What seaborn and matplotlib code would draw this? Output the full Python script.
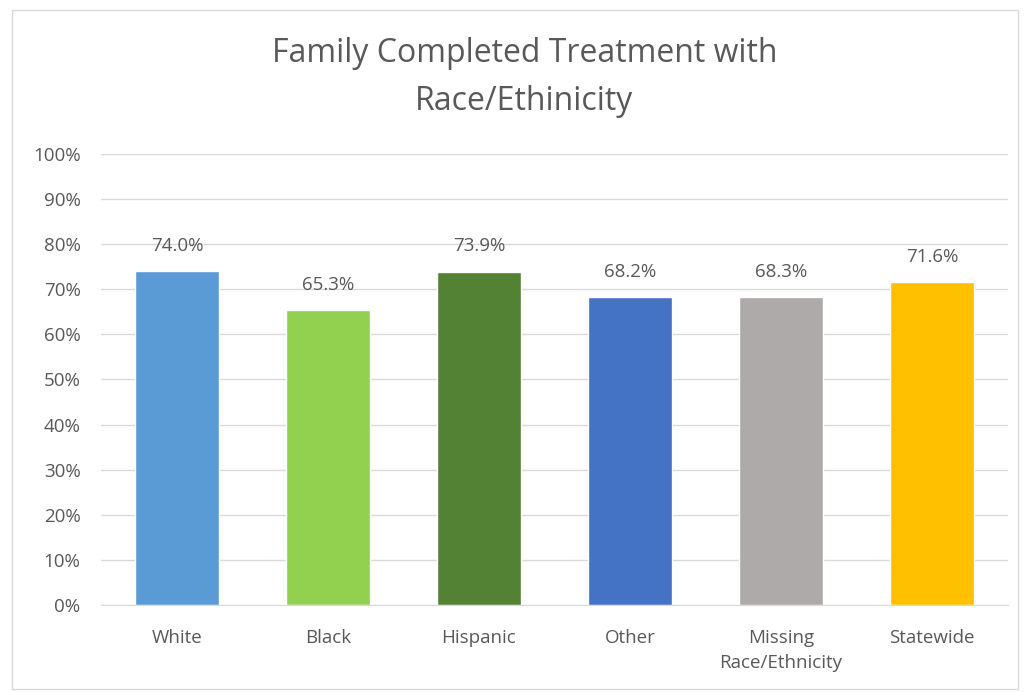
import matplotlib
matplotlib.use("Agg")
import matplotlib.pyplot as plt
import seaborn as sns
import pandas as pd
from matplotlib.patches import Rectangle

groups = ["White", "Black", "Hispanic", "Other", "Missing\nRace/Ethnicity", "Statewide"]
completed = [74.0, 65.3, 73.9, 68.2, 68.3, 71.6]
colors = ["#5B9BD5", "#92D050", "#548235", "#4472C4", "#AEAAAA", "#FFC000"]
yticks = list(range(0, 101, 10))

sns.set_style("white")
plt.rcParams["font.family"] = ["Open Sans", "DejaVu Sans"]
txt = "#595959"

df = pd.DataFrame({"group": groups, "pct": completed})

fig = plt.figure(figsize=(10.24, 6.92), dpi=100)
ax = fig.add_axes([0.099, 0.1257, 0.885, 0.652])

sns.barplot(data=df, x="group", y="pct", hue="group", palette=colors,
            width=0.56, legend=False, ax=ax, saturation=1)

for i, v in enumerate(completed):
    ax.text(i, v + 5.6, f"{v:.1f}%", ha="center", va="center", fontsize=13.5, color=txt)

ax.set_ylim(0, 100)
ax.set_xlim(-0.5, len(groups) - 0.5)
ax.set_yticks(yticks)
ax.set_yticklabels([f"{t}%" for t in yticks], fontsize=13.5, color=txt)
ax.tick_params(axis="x", labelsize=13.5, labelcolor=txt, length=0, pad=17)
ax.tick_params(axis="y", length=0, pad=15)
for lab in ax.get_xticklabels():
    lab.set_linespacing(1.55)
ax.yaxis.grid(True, color="#D9D9D9", linewidth=1)
ax.set_axisbelow(True)
for s in ["top", "right", "left"]:
    ax.spines[s].set_visible(False)
ax.spines["bottom"].set_color("#D9D9D9")
ax.set_xlabel("")
ax.set_ylabel("")

fig.text(0.512, 0.888, "Family Completed Treatment with\nRace/Ethinicity", ha="center", va="center",
         fontsize=23, color=txt, linespacing=1.6)

fig.patches.append(Rectangle((0.012, 0.005), 0.982, 0.98, transform=fig.transFigure,
                             fill=False, edgecolor="#D9D9D9", linewidth=1))

fig.savefig("out.png", dpi=100)
